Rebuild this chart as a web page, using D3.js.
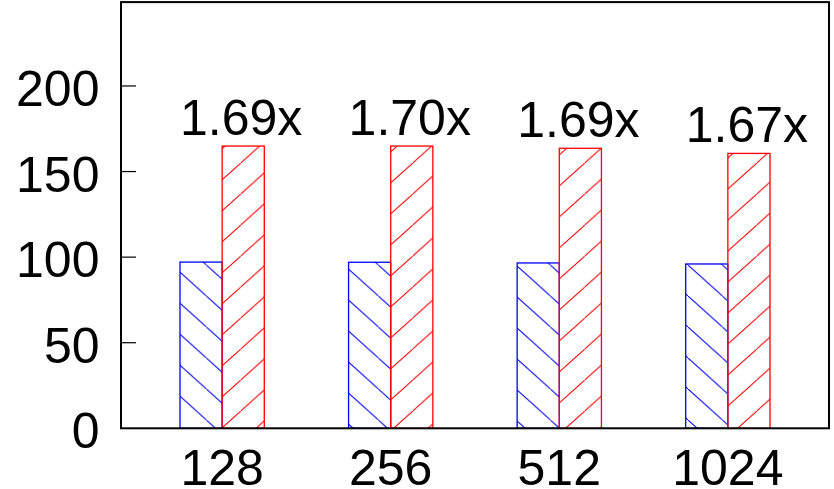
<!DOCTYPE html>
<html>
<head>
<meta charset="utf-8">
<script src="https://cdn.jsdelivr.net/npm/d3@7"></script>
<style>
  html, body { margin: 0; padding: 0; background: #fff; }
  svg { display: block; }
  text { font-family: "Liberation Sans", Arial, sans-serif; fill: #000; }
</style>
</head>
<body>
<script>
const categories = ["128", "256", "512", "1024"];
const baseValues = [97.1, 97.0, 96.6, 96.0];
const fastValues = [164.9, 164.9, 163.6, 160.6];
const speedupLabels = ["1.69x", "1.70x", "1.69x", "1.67x"];
const yTicks = [0, 50, 100, 150, 200];

const W = 834, H = 489;
const svg = d3.select("body").append("svg").attr("width", W).attr("height", H);

const x = d3.scaleLinear().domain([-0.6, 3.6]).range([121, 829]);
const y = d3.scaleLinear().domain([0, 249]).range([428.3, 2.1]);
const barW = 0.25;

// hatch patterns
const defs = svg.append("defs");
const pw = 34.4, ph = 31;
const pb = defs.append("pattern").attr("id", "hatchBlue")
  .attr("patternUnits", "userSpaceOnUse").attr("width", pw).attr("height", ph)
  .attr("patternTransform", "translate(0,17)");
pb.append("path").attr("d", `M-2,${-2*ph/pw} L${pw+2},${ph+2*ph/pw}`)
  .attr("stroke", "#0000ff").attr("stroke-width", 1).attr("fill", "none");
const pr = defs.append("pattern").attr("id", "hatchRed")
  .attr("patternUnits", "userSpaceOnUse").attr("width", pw).attr("height", ph)
  .attr("patternTransform", "translate(0,8)");
pr.append("path").attr("d", `M-2,${ph+2*ph/pw} L${pw+2},${-2*ph/pw}`)
  .attr("stroke", "#ff0000").attr("stroke-width", 1).attr("fill", "none");

// bars
const idx = d3.range(categories.length);
svg.selectAll("rect.base").data(idx).join("rect")
  .attr("x", i => x(i - barW)).attr("width", i => x(i) - x(i - barW))
  .attr("y", i => y(baseValues[i])).attr("height", i => y(0) - y(baseValues[i]))
  .attr("fill", "url(#hatchBlue)").attr("stroke", "#0000ff").attr("stroke-width", 1.3);
svg.selectAll("rect.fast").data(idx).join("rect")
  .attr("x", i => x(i)).attr("width", i => x(i + barW) - x(i))
  .attr("y", i => y(fastValues[i])).attr("height", i => y(0) - y(fastValues[i]))
  .attr("fill", "url(#hatchRed)").attr("stroke", "#ff0000").attr("stroke-width", 1.3);

// labels
svg.selectAll("text.lbl").data(idx).join("text")
  .attr("x", i => x(i + barW / 2) - 2).attr("y", i => y(fastValues[i]) - 11)
  .attr("text-anchor", "middle").attr("font-size", 50)
  .text(i => speedupLabels[i]);

// y ticks (inward)
yTicks.forEach(t => {
  if (t > 0) svg.append("line").attr("x1", x(-0.6)).attr("x2", x(-0.6) + 15)
    .attr("y1", y(t)).attr("y2", y(t)).attr("stroke", "#000").attr("stroke-width", 1.2);
  svg.append("text").attr("x", 99.5).attr("y", y(t) + 20)
    .attr("text-anchor", "end").attr("font-size", 50).text(t);
});

// x tick labels
svg.selectAll("text.xl").data(idx).join("text")
  .attr("x", i => x(i)).attr("y", 485)
  .attr("text-anchor", "middle").attr("font-size", 50)
  .text(i => categories[i]);

// frame
svg.append("rect").attr("x", x(-0.6)).attr("y", y(249))
  .attr("width", x(3.6) - x(-0.6)).attr("height", y(0) - y(249))
  .attr("fill", "none").attr("stroke", "#000").attr("stroke-width", 2);
</script>
</body>
</html>
